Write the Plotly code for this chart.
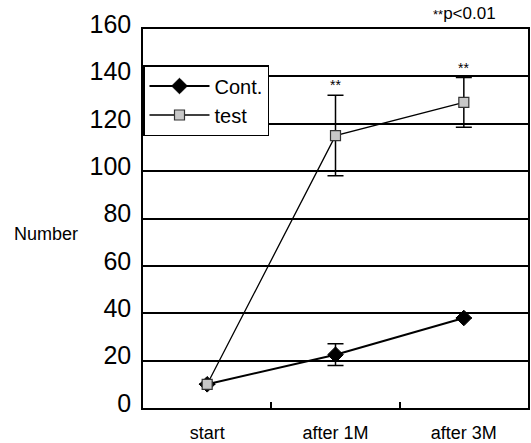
import plotly.graph_objects as go

categories = ["start", "after 1M", "after 3M"]
cont_values = [10, 22.5, 38]
cont_errors = [0, 4.6, 0]
test_values = [10, 115, 129]
test_errors = [0, 17, 10.5]
star_labels = ["", "**", "**"]
y_ticks = [0, 20, 40, 60, 80, 100, 120, 140, 160]

FONT = "Liberation Sans, Arial, sans-serif"

fig = go.Figure()
fig.add_trace(go.Scatter(
    x=categories, y=cont_values, name="Cont.", mode="lines+markers",
    line=dict(color="black", width=2),
    marker=dict(symbol="diamond", size=12, color="black", line=dict(color="black", width=1)),
    error_y=dict(type="data", array=cont_errors, visible=True, color="black", thickness=1.5, width=8),
))
fig.add_trace(go.Scatter(
    x=categories, y=test_values, name="test", mode="lines+markers",
    line=dict(color="black", width=1.3),
    marker=dict(symbol="square", size=10, color="#c8c8c8", line=dict(color="#333333", width=1.2)),
    error_y=dict(type="data", array=test_errors, visible=True, color="black", thickness=1.5, width=8),
))

for c, v, e, s in zip(categories, test_values, test_errors, star_labels):
    if s:
        fig.add_annotation(x=c, y=v + e, text=s, showarrow=False, yanchor="bottom",
                           yshift=0, font=dict(size=14, color="black", family=FONT))

fig.add_annotation(xref="paper", yref="paper", x=1.0, y=1.0, xanchor="right", yanchor="bottom",
                   yshift=4, xshift=-30,
                   text="<span style='font-size:13px'>**</span>p&lt;0.01", showarrow=False,
                   font=dict(size=17, color="black", family=FONT))
fig.add_annotation(xref="paper", yref="paper", x=-0.252, y=0.459, xanchor="center", yanchor="middle",
                   text="Number", showarrow=False, font=dict(size=18, color="black", family=FONT))

fig.update_layout(
    width=531, height=443,
    margin=dict(l=143, r=3, t=29, b=35),
    paper_bgcolor="white", plot_bgcolor="white",
    font=dict(family=FONT, color="black"),
    showlegend=True,
    legend=dict(x=0, y=0.905, xanchor="left", yanchor="top",
                bgcolor="white", bordercolor="black", borderwidth=1.5,
                font=dict(size=20, color="black", family=FONT),
                itemwidth=60, tracegroupgap=0),
)
fig.update_xaxes(
    type="category", range=[-0.5, 2.5], automargin=False,
    showline=True, linecolor="black", linewidth=1.5, mirror=True,
    ticks="inside", tickson="boundaries", ticklen=6, tickcolor="black", tickwidth=1.5,
    showgrid=False, tickfont=dict(size=18, color="black", family=FONT),
    ticklabelstandoff=8,
)
fig.update_yaxes(
    range=[0, 160], tickvals=y_ticks, automargin=False,
    showline=True, linecolor="black", linewidth=1.5, mirror=True,
    ticks="", showgrid=True, gridcolor="black", gridwidth=1.5, zeroline=False,
    tickfont=dict(size=25, color="black", family=FONT),
    ticklabelshift=-5, ticklabelstandoff=5,
)

fig.write_html("out.html")
